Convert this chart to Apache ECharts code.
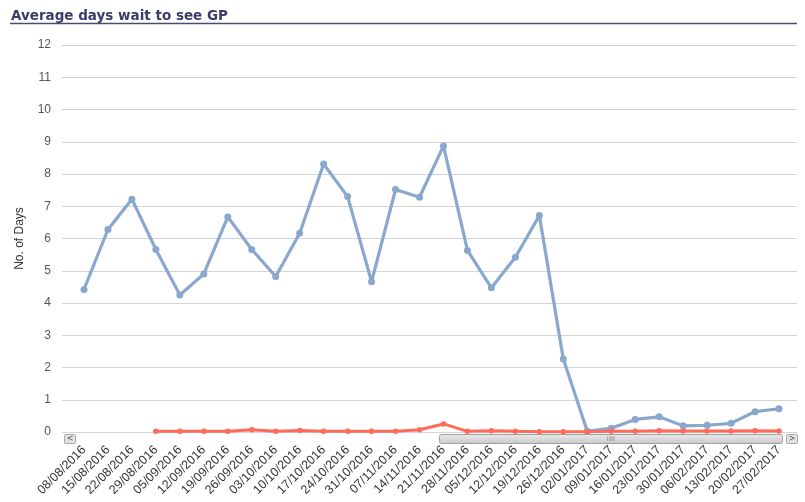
<!DOCTYPE html>
<html>
<head>
<meta charset="utf-8">
<script src="https://cdn.jsdelivr.net/npm/echarts@6/dist/echarts.min.js"></script>
<style>html,body{margin:0;padding:0;background:#fff}#c{width:805px;height:502px}</style>
</head>
<body>
<div id="c"></div>
<script>
var categories = ['08/08/2016','15/08/2016','22/08/2016','29/08/2016','05/09/2016','12/09/2016','19/09/2016','26/09/2016','03/10/2016','10/10/2016','17/10/2016','24/10/2016','31/10/2016','07/11/2016','14/11/2016','21/11/2016','28/11/2016','05/12/2016','12/12/2016','19/12/2016','26/12/2016','02/01/2017','09/01/2017','16/01/2017','23/01/2017','30/01/2017','06/02/2017','13/02/2017','20/02/2017','27/02/2017'];
var blueValues = [4.42,6.28,7.22,5.66,4.25,4.90,6.67,5.66,4.82,6.16,8.31,7.30,4.66,7.52,7.28,8.87,5.63,4.47,5.42,6.71,2.26,0.02,0.12,0.39,0.47,0.19,0.21,0.27,0.63,0.72];
var redValues = [null,null,null,0.02,0.02,0.02,0.02,0.07,0.02,0.05,0.02,0.02,0.02,0.02,0.07,0.25,0.02,0.04,0.02,0.01,0.01,0.01,0.02,0.02,0.04,0.03,0.03,0.03,0.04,0.03];
var yTicks = [0,1,2,3,4,5,6,7,8,9,10,11,12];

var chart = echarts.init(document.getElementById('c'), null, {renderer:'canvas'});
var option = {
  animation:false,
  backgroundColor:'#fff',
  title:{text:'Average days wait to see GP', left:11, top:9, padding:0,
    textStyle:{fontFamily:'DejaVu Sans', fontWeight:'bold', fontSize:13.5, color:'#3b3b6b'}},
  grid:[
    {left:62, right:8, top:45, bottom:70},
    {left:72, right:14, top:45, bottom:70}
  ],
  xAxis:[
    {gridIndex:0, type:'value', show:false, min:0, max:1},
    {gridIndex:1, type:'category', data:categories, boundaryGap:true,
      axisLine:{show:false}, axisTick:{show:false},
      axisLabel:{interval:0, rotate:45, margin:16, fontFamily:'Liberation Sans', fontSize:12.5, color:'#333'}}
  ],
  yAxis:[
    {gridIndex:0, type:'value', min:yTicks[0], max:yTicks[yTicks.length-1], interval:1,
      name:'No. of Days', nameLocation:'middle', nameGap:36, nameRotate:90,
      nameTextStyle:{fontFamily:'Liberation Sans', fontSize:12, color:'#333'},
      axisLine:{show:false}, axisTick:{show:false},
      axisLabel:{margin:11, fontFamily:'Liberation Sans', fontSize:12, color:'#555'},
      splitLine:{lineStyle:{color:'#d4d4d4', width:1}}},
    {gridIndex:1, type:'value', min:yTicks[0], max:yTicks[yTicks.length-1], interval:1, show:false, splitLine:{show:false}}
  ],
  series:[
    {type:'line', xAxisIndex:1, yAxisIndex:1, data:blueValues, symbol:'circle', symbolSize:7,
      lineStyle:{color:'#8aa8cd', width:3.2}, itemStyle:{color:'#8aa8cd'}, z:3},
    {type:'line', xAxisIndex:1, yAxisIndex:1, data:redValues, symbol:'circle', symbolSize:5.5,
      lineStyle:{color:'#ff6b5b', width:3}, itemStyle:{color:'#ff6b5b'}, z:4}
  ],
  graphic:[
    {type:'line', shape:{x1:10, y1:23.5, x2:797, y2:23.5}, style:{stroke:'#4a4a72', lineWidth:1.5}},
    {type:'rect', shape:{x:64.5, y:434.5, width:11, height:9, r:1}, style:{fill:'#e2e2e2', stroke:'#a8a8a8', lineWidth:1}},
    {type:'text', x:70, y:439, style:{text:'<', fontSize:8, fill:'#555', align:'center', verticalAlign:'middle', fontFamily:'DejaVu Sans'}},
    {type:'rect', shape:{x:439.5, y:434.5, width:343, height:9, r:2},
      style:{fill:new echarts.graphic.LinearGradient(0,0,0,1,[{offset:0,color:'#ececec'},{offset:1,color:'#c8c8c8'}]), stroke:'#a0a0a0', lineWidth:1}},
    {type:'text', x:611, y:439, style:{text:'IIII', fontSize:7, fill:'#888', align:'center', verticalAlign:'middle', fontFamily:'DejaVu Sans'}},
    {type:'rect', shape:{x:786.5, y:434.5, width:11, height:9, r:1}, style:{fill:'#e2e2e2', stroke:'#a8a8a8', lineWidth:1}},
    {type:'text', x:792, y:439, style:{text:'>', fontSize:8, fill:'#555', align:'center', verticalAlign:'middle', fontFamily:'DejaVu Sans'}}
  ]
};
chart.setOption(option);
</script>
</body>
</html>
